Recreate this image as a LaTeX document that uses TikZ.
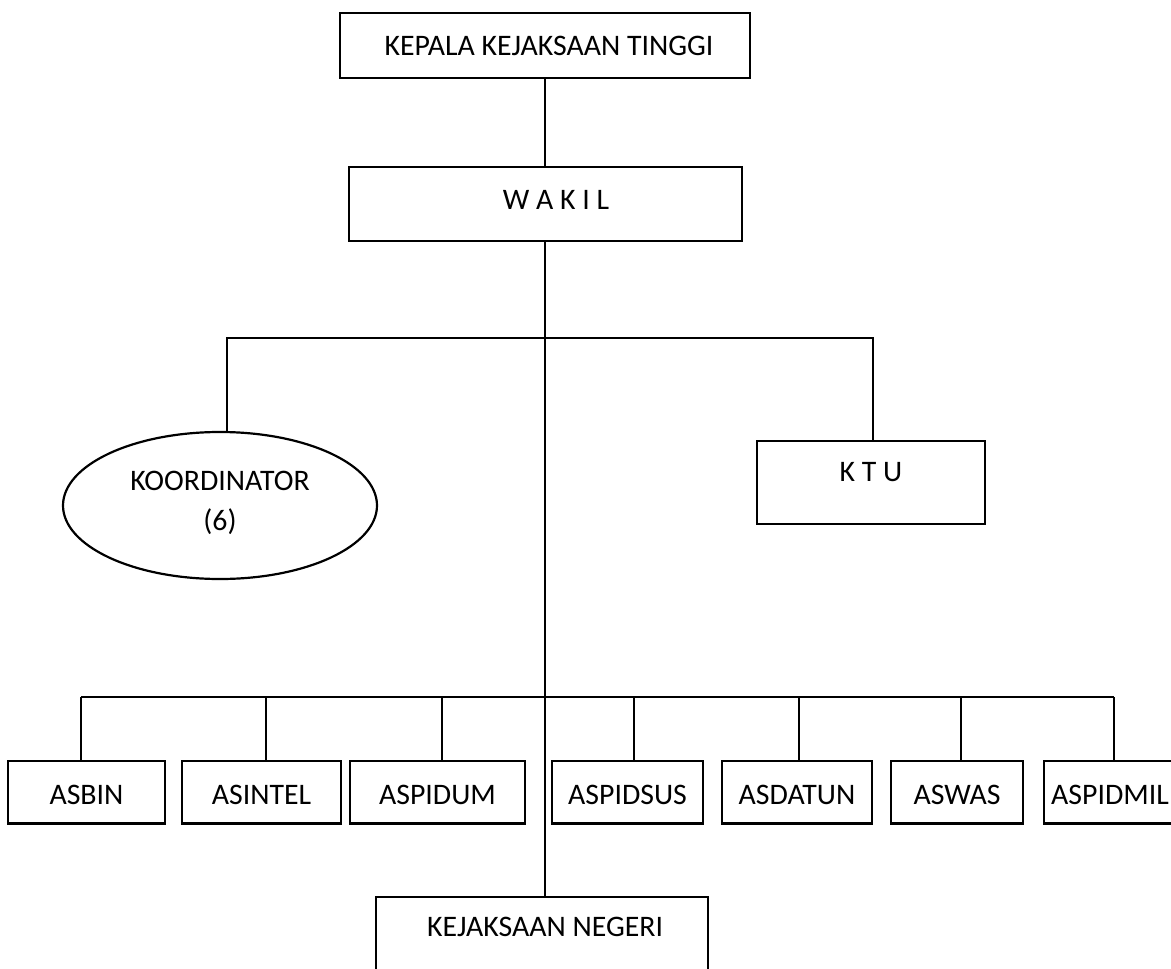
\documentclass[tikz,border=0pt]{standalone}
\usepackage{fontspec}
\setmainfont{Carlito}
\usetikzlibrary{shapes.geometric,calc}
\begin{document}
\begin{tikzpicture}[x=1pt,y=-1pt,
  box/.style={draw,line width=2.2pt,rectangle,inner sep=0pt},
  oval/.style={draw,line width=2.2pt,ellipse,inner sep=0pt},
  lbl/.style={inner sep=0pt,font=\fontsize{29.8}{36}\selectfont},
  conn/.style={line width=2.2pt}]
\useasboundingbox (0,0) rectangle (1171,969);
% top
\node[box,minimum width=410,minimum height=65] (kepala) at (545,45.5) {};
\node[lbl] (kepalat) at (549,45.5) {KEPALA KEJAKSAAN TINGGI};
\node[box,minimum width=393,minimum height=74] (wakil) at (545.5,204) {};
\node[lbl] (wakilt) at (556,200) {W A K I L};
% middle
\node[oval,minimum width=314,minimum height=147] (koord) at (220,505.5) {};
\node[lbl] (koordt1) at (220,481) {KOORDINATOR};
\node[lbl] (koordt2) at (220,522) {(6)};
\node[box,minimum width=228,minimum height=83] (ktu) at (871,482.5) {};
\node[lbl] (ktut) at (871,472) {K T U};
% bottom boxes
\foreach \nm/\lft/\rgt in {asbin/8/165, asintel/182/341, aspidum/350/525, aspidsus/552/703, asdatun/722/872, aswas/891/1023, aspidmil/1044/1192}{
  \node[box,minimum width={\rgt-\lft},minimum height=62.5] (\nm) at ({(\lft+\rgt)/2},792.25) {};
}
\node[lbl] (asbint) at (86.5,795) {ASBIN};
\node[lbl] (asintelt) at (261.5,795) {ASINTEL};
\node[lbl] (aspidumt) at (437.5,795) {ASPIDUM};
\node[lbl] (aspidsust) at (627.5,795) {ASPIDSUS};
\node[lbl] (asdatunt) at (797,795) {ASDATUN};
\node[lbl] (aswast) at (957,795) {ASWAS};
\node[lbl] (aspidmilt) at (1110,795) {ASPIDMIL};
% kejaksaan negeri
\node[box,minimum width=332,minimum height=110] (kn) at (542,952) {};
\node[lbl] (knt) at (545,927) {KEJAKSAAN NEGERI};
% connectors
\coordinate (bus1) at (545,338);
\draw[conn] (kepala.south) -- (kepala.south |- wakil.north);
\draw[conn] (wakil.south -| bus1) -- (kn.north -| bus1);
\coordinate (k1) at (227,338);
\coordinate (k2) at (873,338);
\draw[conn] (k1 |- koord.north) -- (k1) -- (k2) -- (k2 |- ktu.north);
\coordinate (t1) at (81,697);
\coordinate (t2) at (266,697);
\coordinate (t3) at (442,697);
\coordinate (t4) at (634,697);
\coordinate (t5) at (799,697);
\coordinate (t6) at (961,697);
\coordinate (t7) at (1114,697);
\draw[conn] (t1) -- (t7);
\draw[conn] (t1) -- (t1 |- asbin.north);
\draw[conn] (t2) -- (t2 |- asintel.north);
\draw[conn] (t3) -- (t3 |- aspidum.north);
\draw[conn] (t4) -- (t4 |- aspidsus.north);
\draw[conn] (t5) -- (t5 |- asdatun.north);
\draw[conn] (t6) -- (t6 |- aswas.north);
\draw[conn] (t7) -- (t7 |- aspidmil.north);
\end{tikzpicture}
\end{document}
